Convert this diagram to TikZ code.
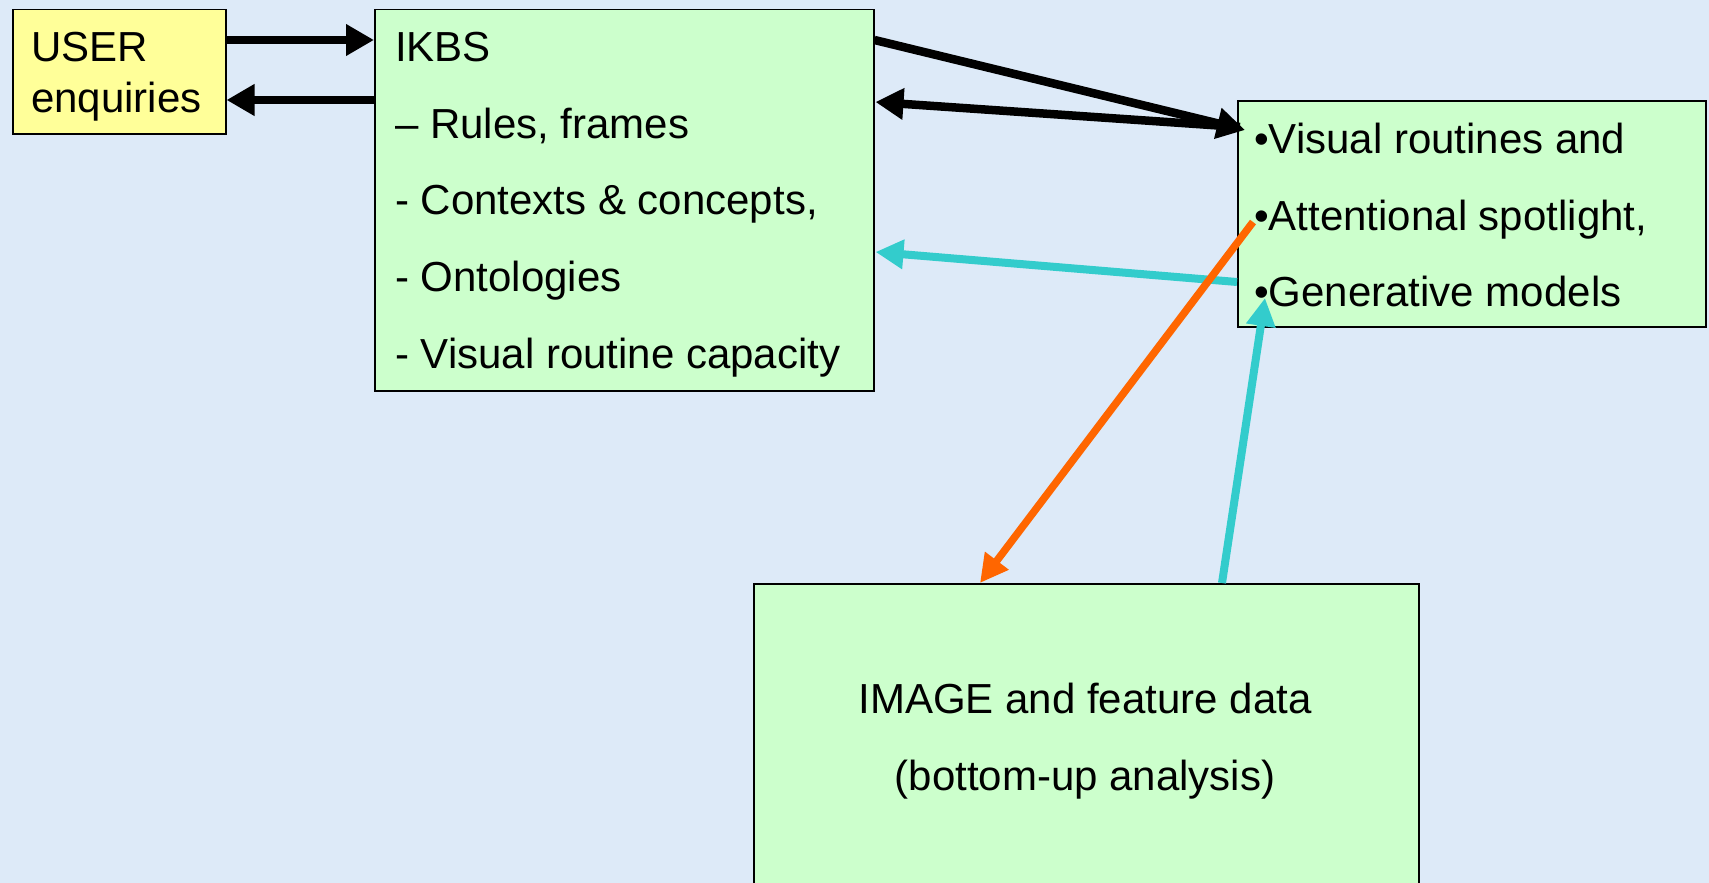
\documentclass[tikz,border=0pt]{standalone}
\usepackage{fontspec}
\setmainfont{Liberation Sans}
\usetikzlibrary{arrows.meta}

\definecolor{paper}{RGB}{221,234,248}
\definecolor{mint}{RGB}{204,255,204}
\definecolor{lemon}{RGB}{255,255,153}
\definecolor{linkcyan}{RGB}{51,204,204}
\definecolor{signal}{RGB}{255,102,0}

\begin{document}
\begin{tikzpicture}[x=1pt,y=-1pt,
    box/.style={draw=black, line width=1.5pt, anchor=north west, inner sep=0pt},
    blk/.style={line width=8.5pt, draw=black, -{Triangle[length=28pt,width=30pt]}},
    cyn/.style={line width=8pt, draw=linkcyan, -{Triangle[length=28pt,width=28pt]}},
    org/.style={line width=7.5pt, draw=signal, -{Triangle[length=28pt,width=28pt]}}]

        \useasboundingbox (0,0) rectangle (1709,883);
        \clip (0,0) rectangle (1709,883);
        \fill[paper] (0,0) rectangle (1709,883);

        % boxes
        \node[box, fill=lemon, minimum width=213, minimum height=124] (user) at (12,9) {};
        \node[box, fill=mint, minimum width=499, minimum height=381] (ikbs) at (374,9) {};
        \node[box, fill=mint, minimum width=468, minimum height=226] (vr) at (1237,100) {};
        \node[box, fill=mint, minimum width=665, minimum height=400] (img) at (753,583) {};

        \begin{scope}[every node/.style={anchor=base west, inner sep=0pt, font=\fontsize{42}{50}\selectfont}]
          \node (u1) at (31,62) {USER};
          \node (u2) at (31,112) {enquiries};

          \node (k1) at (395,62) {IKBS};
          \node (k2) at (395,138) {– Rules, frames};
          \node (k3) at (395,214) {- Contexts \& concepts,};
          \node (k4) at (395,291) {- Ontologies};
          \node (k5) at (395,368) {- Visual routine capacity};

          \node (v1) at (1254,153) {•Visual routines and};
          \node (v2) at (1254,230) {•Attentional spotlight,};
          \node (v3) at (1254,306) {•Generative models};

          \node[anchor=base] (i1) at (1085,713) {IMAGE and feature data};
          \node[anchor=base] (i2) at (1085,790) {(bottom-up analysis)};
        \end{scope}

        % connectors
        \draw[blk] ([shift={(0,31)}]user.north east) -- ([shift={(0,31)}]ikbs.north west);
        \draw[blk] ([shift={(0,91)}]ikbs.north west) -- ([shift={(0,91)}]user.north east);
        \draw[blk] ([shift={(0,31)}]ikbs.north east) -- ([shift={(8,30)}]vr.north west);
        \draw[blk] ([shift={(3,27)}]vr.north west) -- ([shift={(1,93)}]ikbs.north east);

        \draw[cyn] ([shift={(0,182)}]vr.north west) -- ([shift={(1,243)}]ikbs.north east);
        \draw[cyn] ([shift={(469,0)}]img.north west) -- ([shift={(28,198)}]vr.north west);
        \draw[org] ([shift={(16,122)}]vr.north west) -- ([shift={(227,0)}]img.north west);

      \end{tikzpicture}
\end{document}
